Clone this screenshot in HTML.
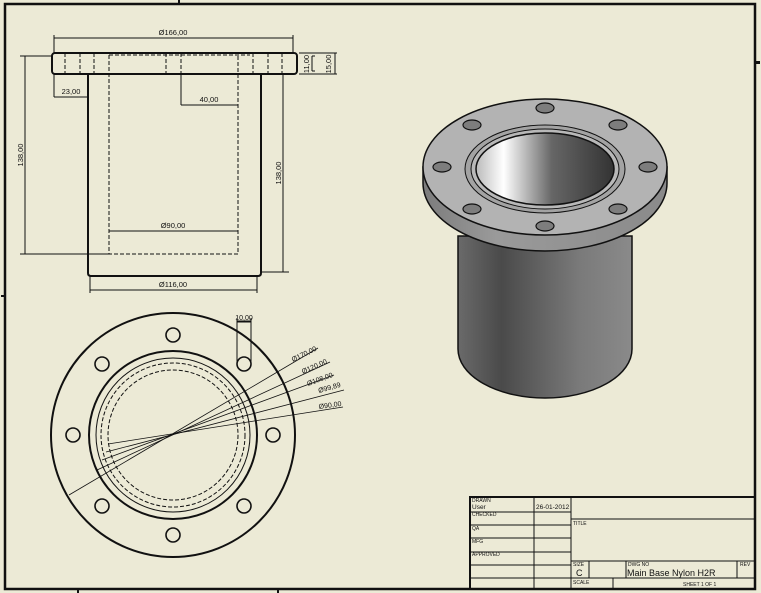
<!DOCTYPE html>
<html><head><meta charset="utf-8"><style>
html,body{margin:0;padding:0;background:#ECEAD6;}
svg{display:block}
text{font-family:"Liberation Sans",sans-serif;fill:#111}
</style></head><body>
<svg width="761" height="593" viewBox="0 0 761 593" xmlns="http://www.w3.org/2000/svg">
<defs>
<linearGradient id="cyl" x1="0" x2="1" y1="0" y2="0">
<stop offset="0" stop-color="#6a6a6a"/><stop offset="0.25" stop-color="#4a4a4a"/><stop offset="0.7" stop-color="#7a7a7a"/><stop offset="1" stop-color="#8a8a8a"/></linearGradient>
<linearGradient id="bore" x1="0" x2="1" y1="0" y2="0">
<stop offset="0" stop-color="#bbb"/><stop offset="0.2" stop-color="#fff"/><stop offset="0.55" stop-color="#666"/><stop offset="1" stop-color="#333"/></linearGradient>
<linearGradient id="fl" x1="0" x2="1" y1="0" y2="0">
<stop offset="0" stop-color="#7c7c7c"/><stop offset="0.3" stop-color="#9a9a9a"/><stop offset="1" stop-color="#8a8a8a"/></linearGradient>
</defs>
<rect width="761" height="593" fill="#ECEAD6"/>
<rect x="5" y="4" width="750" height="585" fill="none" stroke="#111" stroke-width="2.5"/>
<g fill="#111"><rect x="1" y="295" width="4" height="2"/><rect x="756" y="61" width="4" height="3"/><rect x="178" y="0" width="2" height="4"/><rect x="77" y="589" width="2" height="4"/><rect x="277" y="589" width="2" height="4"/></g>

<!-- front view -->
<g stroke="#111" fill="none">
<rect x="52" y="53" width="245" height="21" rx="3" stroke-width="2"/>
<path d="M88 74V273Q88 276 91 276H258Q261 276 261 273V74" stroke-width="2"/>
<g stroke-width="1" stroke-dasharray="4,2">
<path d="M65 53V74M80 53V74M94 53V74M166 53V74M181 53V74M253 53V74M268 53V74M282 53V74"/>
<path d="M109 55V254H238V55M109 55H250"/>
</g>
<g stroke-width="1">
<path d="M54 38H293M54 35V53M293 35V53"/>
<path d="M54 97H88M54 74V97"/>
<path d="M181 105H238M181 74V105"/>
<path d="M109 231H238"/>
<path d="M90 290H257M90 276V293M257 276V293"/>
<path d="M25 56V254M20 56H52M20 254H109"/>
<path d="M283 74V272M261 74H289M261 272H289"/>
<path d="M299 53H337M299 74H337M335 53V74M312 56V71M312 56H315M312 71H315"/>
</g>
</g>
<g font-size="7.5">
<text x="173" y="35" text-anchor="middle">Ø166,00</text>
<text x="71" y="94" text-anchor="middle">23,00</text>
<text x="209" y="102" text-anchor="middle">40,00</text>
<text x="173" y="228" text-anchor="middle">Ø90,00</text>
<text x="173" y="287" text-anchor="middle">Ø116,00</text>
<text transform="translate(23 155) rotate(-90)" text-anchor="middle">138,00</text>
<text transform="translate(281 173) rotate(-90)" text-anchor="middle">138,00</text>
<text transform="translate(309 64) rotate(-90)" text-anchor="middle">11,00</text>
<text transform="translate(331 64) rotate(-90)" text-anchor="middle">15,00</text>
</g>

<!-- plan view -->
<g stroke="#111" fill="none">
<circle cx="173" cy="435" r="122" stroke-width="2"/>
<circle cx="173" cy="435" r="84" stroke-width="2"/>
<circle cx="173" cy="435" r="77" stroke-width="1"/>
<circle cx="173" cy="435" r="72" stroke-width="1" stroke-dasharray="4,2"/>
<circle cx="173" cy="435" r="65" stroke-width="1" stroke-dasharray="4,2"/>
<g stroke-width="1.6">
<circle cx="173" cy="335" r="7"/><circle cx="173" cy="535" r="7"/>
<circle cx="73" cy="435" r="7"/><circle cx="273" cy="435" r="7"/>
<circle cx="102" cy="364" r="7"/><circle cx="244" cy="364" r="7"/>
<circle cx="102" cy="506" r="7"/><circle cx="244" cy="506" r="7"/>
</g>
<path d="M237 364V322H251V364M237 322V318M251 322V318M237 321H251" stroke-width="1"/>
<g stroke-width="0.8">
<path d="M318 348L69 495"/>
<path d="M330 362L97 470"/>
<path d="M334 375L102 460"/>
<path d="M344 390L106 452"/>
<path d="M343 407L108 444"/>
</g>
</g>
<g font-size="7">
<text x="244" y="320" text-anchor="middle">10,00</text>
<text transform="translate(293 362) rotate(-26)">Ø170,00</text>
<text transform="translate(303 374) rotate(-24)">Ø120,00</text>
<text transform="translate(308 386) rotate(-20)">Ø108,00</text>
<text transform="translate(319 393) rotate(-16)">Ø99,89</text>
<text transform="translate(319 409) rotate(-8)">Ø90,00</text>
</g>

<!-- 3D view -->
<g stroke="#111" stroke-width="1.5">
<path d="M458 236V349A87 49 0 0 0 632 349V236Z" fill="url(#cyl)"/>
<path d="M423 167V183A122 68 0 0 0 667 183V167Z" fill="url(#fl)"/>
<ellipse cx="545" cy="167" rx="122" ry="68" fill="#b3b3b3"/>
<ellipse cx="545" cy="169" rx="80" ry="44" fill="#a3a3a3" stroke-width="1"/>
<ellipse cx="545" cy="169" rx="74" ry="40" fill="#b8b8b8" stroke-width="1"/>
<ellipse cx="545" cy="169" rx="69" ry="36" fill="url(#bore)"/>
<g fill="#7d7d7d" stroke-width="1.2">
<ellipse cx="545" cy="108" rx="9" ry="5"/><ellipse cx="545" cy="226" rx="9" ry="5"/>
<ellipse cx="442" cy="167" rx="9" ry="5"/><ellipse cx="648" cy="167" rx="9" ry="5"/>
<ellipse cx="472" cy="125" rx="9" ry="5"/><ellipse cx="618" cy="125" rx="9" ry="5"/>
<ellipse cx="472" cy="209" rx="9" ry="5"/><ellipse cx="618" cy="209" rx="9" ry="5"/>
</g>
</g>

<!-- title block -->
<g stroke="#111" fill="none" stroke-width="1">
<rect x="470" y="497" width="285" height="92" stroke-width="2"/>
<path d="M470 512H571M470 525H571M470 538H571M470 552H571M470 565H571M470 578H755"/>
<path d="M534 497V589M571 497V589M571 519H755M571 561H755M589 561V578M626 561V578M737 561V578M613 578V589"/>
</g>
<g font-size="5">
<text x="472" y="502">DRAWN</text>
<text x="472" y="509" font-size="6.5">User</text>
<text x="536" y="509" font-size="6.5">26-01-2012</text>
<text x="472" y="516">CHECKED</text>
<text x="472" y="530">QA</text>
<text x="472" y="543">MFG</text>
<text x="472" y="556">APPROVED</text>
<text x="573" y="525">TITLE</text>
<text x="573" y="566">SIZE</text>
<text x="576" y="576" font-size="9">C</text>
<text x="628" y="566">DWG NO</text>
<text x="627" y="576" font-size="9">Main Base Nylon H2R</text>
<text x="740" y="566">REV</text>
<text x="573" y="584">SCALE</text>
<text x="683" y="586">SHEET 1 OF 1</text>
</g>
</svg>
</body></html>
